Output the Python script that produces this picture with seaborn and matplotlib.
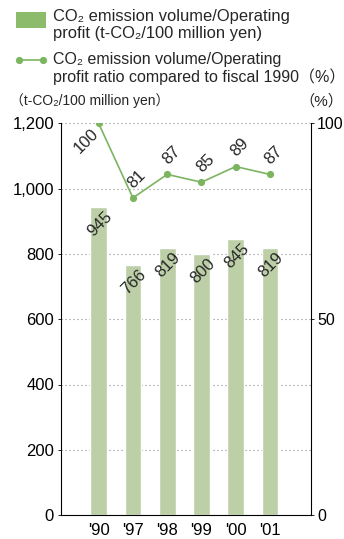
import numpy as np
import matplotlib
matplotlib.use("Agg")
import matplotlib.pyplot as plt
from matplotlib.patches import Rectangle
from matplotlib.lines import Line2D
import seaborn as sns

# Fiscal years and the two indicators
years = ["'90", "'97", "'98", "'99", "'00", "'01"]
intensity = [945, 766, 819, 800, 845, 819]          # t-CO2 / 100 million yen
ratio_vs_1990 = [100, 81, 87, 85, 89, 87]           # % of fiscal 1990

left_ticks = [0, 200, 400, 600, 800, 1000, 1200]
right_ticks = [0, 50, 100]

legend_bar = "CO\u2082 emission volume/Operating\nprofit (t-CO\u2082/100 million yen)"
legend_line = "CO\u2082 emission volume/Operating\nprofit ratio compared to fiscal 1990\uff08%\uff09"
left_unit = "\uff08t-CO\u2082/100 million yen\uff09"
right_unit = "\uff08%\uff09"

BAR_COLOR = "#bdcfa7"
LINE_COLOR = "#7bb560"
PATCH_COLOR = "#8dbb6c"
FS_TICK = 12
FS_LABEL = 12
FS_LEGEND = 11.9

sns.set_style("white")
plt.rcParams["font.family"] = ["Liberation Sans", "Noto Sans CJK JP", "DejaVu Sans"]

W, H = 344, 539
fig = plt.figure(figsize=(W / 100, H / 100), dpi=100)


def fx(px):
    return px / W


def fy(py):
    return 1 - py / H


ax = fig.add_axes([fx(61), fy(515), fx(311) - fx(61), fy(123.5) - fy(515)])
sns.barplot(x=years, y=intensity, color=BAR_COLOR, saturation=1, width=0.49, ax=ax)

pos = np.arange(len(years))
ax2 = ax.twinx()
sns.lineplot(x=pos, y=ratio_vs_1990, ax=ax2, color=LINE_COLOR, lw=1.2,
             marker="o", markersize=5.2, markeredgewidth=0)

ax.set_xlim(-1.1, 6.2)
ax.set_ylim(0, 1200)
ax2.set_ylim(0, 100)
ax.set_xlabel("")
ax.set_ylabel("")
ax2.set_xlabel("")
ax2.set_ylabel("")

ax.set_yticks(left_ticks)
ax.set_yticklabels([f"{v:,}" for v in left_ticks])
ax2.set_yticks(right_ticks)
ax2.set_yticklabels([str(v) for v in right_ticks])

ax.yaxis.grid(True, linestyle=(0, (1, 2.6)), color="#8a8a8a", lw=0.8)
ax.xaxis.grid(False)
ax.set_axisbelow(True)

for s in ("top", "right"):
    ax.spines[s].set_visible(False)
for s in ("top", "left", "bottom"):
    ax2.spines[s].set_visible(False)
for sp in (ax.spines["left"], ax.spines["bottom"], ax2.spines["right"]):
    sp.set_color("black")
    sp.set_linewidth(0.8)

ax.tick_params(axis="y", direction="out", length=2, width=0.6, pad=3,
               labelsize=FS_TICK, colors="black", left=True)
ax.tick_params(axis="x", length=0, pad=5.5, labelsize=FS_TICK, colors="black")
ax2.tick_params(axis="y", direction="out", length=2, width=0.6, pad=2.5,
                labelsize=11.5, colors="black", right=True)

# Value labels on bars
for i, v in enumerate(intensity):
    ax.annotate(str(v), (i, v), xytext=(1, -17), textcoords="offset pixels",
                ha="center", va="center", rotation=45, fontsize=FS_LABEL)

# Value labels on the ratio line
for i, v in enumerate(ratio_vs_1990):
    off = (-12, -18) if i == 0 else (4, 19)
    ax2.annotate(str(v), (i, v), xytext=off, textcoords="offset pixels",
                 ha="center", va="center", rotation=45, fontsize=FS_LABEL)

# Legend block at the top
fig.add_artist(Rectangle((fx(16), fy(28.3)), fx(46) - fx(16), fy(11.7) - fy(28.3),
                         transform=fig.transFigure, color=PATCH_COLOR, lw=0))
fig.add_artist(Line2D([fx(19), fx(43)], [fy(60), fy(60)], transform=fig.transFigure,
                      color=LINE_COLOR, lw=1.2, marker="o", markersize=5.2,
                      markeredgewidth=0))
fig.text(fx(53), fy(9.5), legend_bar, ha="left", va="top", fontsize=FS_LEGEND,
         linespacing=1.1)
fig.text(fx(53), fy(51.5), legend_line, ha="left", va="top", fontsize=11.5,
         linespacing=1.14)

fig.text(fx(10), fy(101), left_unit, ha="left", va="center", fontsize=10)
fig.text(fx(343), fy(101), right_unit, ha="right", va="center", fontsize=11)

fig.savefig("out.png", dpi=100)
